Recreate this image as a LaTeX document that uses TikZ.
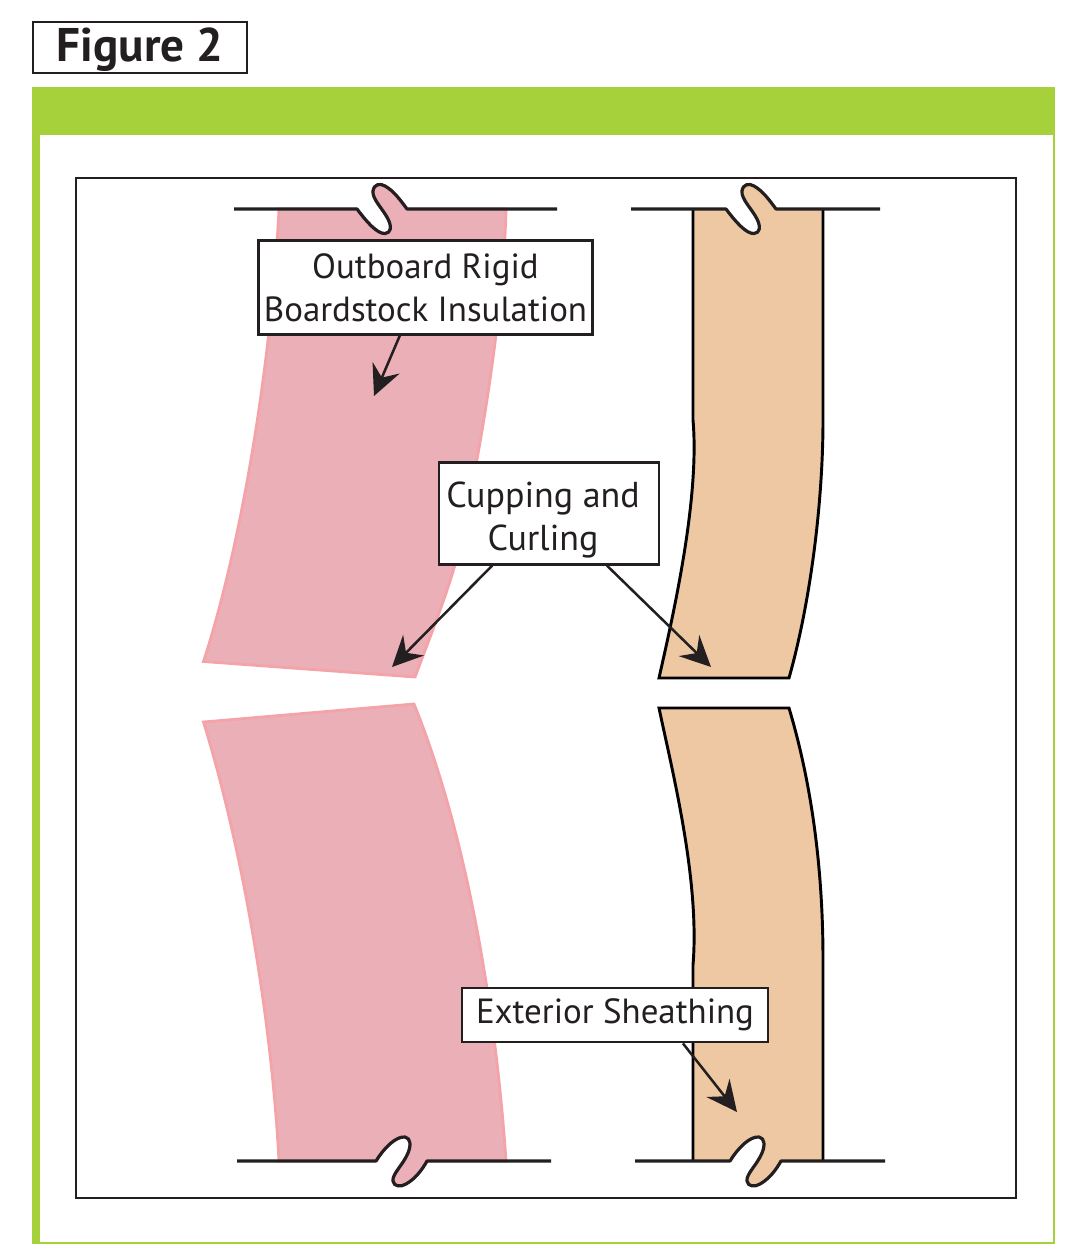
\documentclass[tikz,border=0pt]{standalone}
\usepackage{fontspec}
\setmainfont{PT Sans}
\usetikzlibrary{arrows.meta,calc}
\definecolor{framegreen}{HTML}{A6D13A}
\definecolor{pinkfill}{HTML}{EBAFB8}
\definecolor{pinkedge}{HTML}{F4A3A8}
\definecolor{tanfill}{HTML}{EEC8A2}
\definecolor{inkblack}{HTML}{231F20}
\tikzset{
  x=0.75pt,y=-0.75pt,
  callout/.style={draw=inkblack,line width=2.1pt,fill=white,align=center,inner sep=0pt,text=inkblack,
    font=\fontsize{26.2}{32.5}\selectfont},
  pointer/.style={draw=inkblack,line width=1.9pt,-{Stealth[length=23pt,width=22pt,inset=8pt]}},
  pinkboard/.style={fill=pinkfill,draw=pinkedge,line width=2.1pt,line join=miter},
  tanboard/.style={fill=tanfill,draw=black,line width=2.2pt,line join=miter},
  wallline/.style={draw=inkblack,line width=2.4pt},
}
\newcommand{\topnotch}[1]{(#1+357,209) .. controls (#1+366,221) and (#1+377,234) .. (#1+385,233.5) .. controls (#1+391,233) and (#1+392,227) .. (#1+388,219) .. controls (#1+383,209) and (#1+372,199) .. (#1+373,191) .. controls (#1+374,184) and (#1+380,183) .. (#1+385,186) .. controls (#1+394,191) and (#1+401,201) .. (#1+407,209)}
\newcommand{\botnotch}[1]{(#1+376,1161) .. controls (#1+384,1148) and (#1+396,1136) .. (#1+405,1137) .. controls (#1+411,1138) and (#1+411,1146) .. (#1+408,1153) .. controls (#1+403,1165) and (#1+392,1174) .. (#1+393,1181) .. controls (#1+394,1187) and (#1+401,1187) .. (#1+406,1184) .. controls (#1+415,1179) and (#1+422,1170) .. (#1+427,1161)}
\begin{document}
\begin{tikzpicture}
\useasboundingbox (0,0) rectangle (1072,1260);
% frame
\fill[framegreen] (32,87) rectangle (1055,135);
\fill[framegreen] (32,87) rectangle (39.5,1244);
\draw[framegreen,line width=1.6pt] (32,1243) -- (1054,1243) -- (1054,87);
\draw[inkblack,line width=1.5pt,fill=white] (76,177.5) rectangle (1015.5,1198);
% upper left board
\path[pinkboard] (279,209) -- \topnotch{0} -- (506,209) .. controls (504,300) and (485,420) .. (473,480) .. controls (462,560) and (440,610) .. (415,677) -- (203.5,661.5) .. controls (240,550) and (271,370) .. (279,209) -- cycle;
% upper right board
\path[fill=tanfill] (693,209) -- \topnotch{369} -- (823,209) -- (823,420) .. controls (823,500) and (811,600) .. (789,678) -- (659,678) .. controls (672,620) and (700,500) .. (693,420) -- cycle;
\draw[tanboard,fill=none] (693,209) -- (693,420) .. controls (700,500) and (672,620) .. (659,678) -- (789,678) .. controls (811,600) and (823,500) .. (823,420) -- (823,209);
% lower left board
\path[pinkboard] (279,1161) -- \botnotch{0} -- (506,1161) .. controls (495,1000) and (465,830) .. (414,704) -- (203.5,722) .. controls (240,840) and (271,1010) .. (279,1161) -- cycle;
% lower right board
\path[fill=tanfill] (693,1161) -- \botnotch{354} -- (823,1161) -- (823,960) .. controls (823,870) and (812,785) .. (789,708) -- (659,708) .. controls (672,770) and (700,880) .. (693,965) -- cycle;
\draw[tanboard,fill=none] (693,1161) -- (693,965) .. controls (700,880) and (672,770) .. (659,708) -- (789,708) .. controls (812,785) and (823,870) .. (823,960) -- (823,1161);
% wall lines
\draw[wallline,line join=round] (234,209) -- \topnotch{0} -- (557,209);
\draw[wallline,line join=round] (631,209) -- \topnotch{369} -- (880,209);
\draw[wallline,line join=round] (237,1161) -- \botnotch{0} -- (551,1161);
\draw[wallline,line join=round] (635,1161) -- \botnotch{354} -- (885,1161);
% title
\node[draw=inkblack,line width=1.5pt,fill=white,minimum width=160.5pt,minimum height=38.2pt,inner sep=0pt,text=inkblack,font=\fontsize{35.4}{40}\selectfont\bfseries] (title) at (140,47.5) {\rule{0pt}{28pt}Figure 2};
% callouts
\node[callout,minimum width=251pt,minimum height=70pt] (board) at (425.5,287.5) {Outboard Rigid\\Boardstock Insulation};
\node[callout,font=\fontsize{27}{32.5}\selectfont,minimum width=165pt,minimum height=76pt] (cup) at (549,513.5) {\rule{0pt}{29pt}Cupping and\hspace*{9pt}\\Curling\hspace*{9pt}};
\node[callout,minimum width=229.5pt,minimum height=40.5pt] (sheath) at (615,1015) {Exterior Sheathing};
% arrow ends
\coordinate (tipboard) at (374,396);
\coordinate (tipcupl) at (392,667);
\coordinate (tipcupr) at (711,667);
\coordinate (tipsheath) at (737,1112);
\draw[pointer] ($(board.south west)!0.424!(board.south east)$) -- (tipboard);
\draw[pointer] ($(cup.south west)!0.245!(cup.south east)$) -- (tipcupl);
\draw[pointer] ($(cup.south west)!0.76!(cup.south east)$) -- (tipcupr);
\draw[pointer] ($(sheath.south west)!0.72!(sheath.south east)$) -- (tipsheath);
\end{tikzpicture}
\end{document}
